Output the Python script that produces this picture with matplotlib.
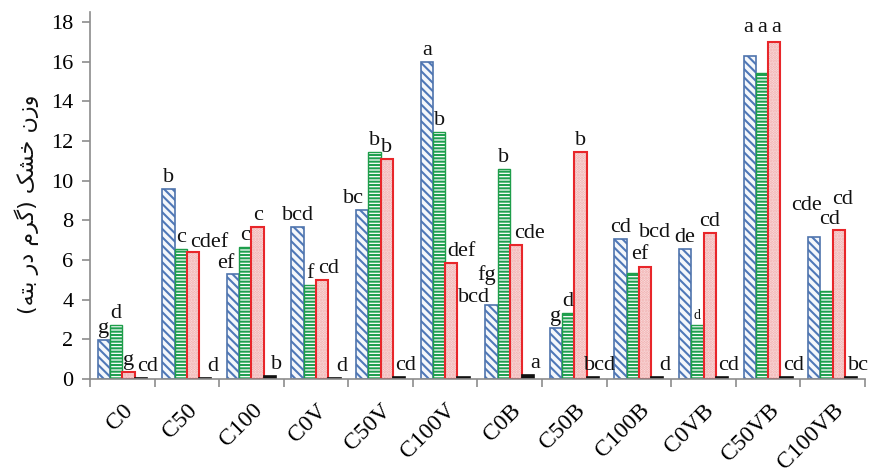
import matplotlib
matplotlib.use("Agg")
import matplotlib.pyplot as plt
import numpy as np

# ---------------- data ----------------
categories = ["C0", "C50", "C100", "C0V", "C50V", "C100V", "C0B", "C50B",
              "C100B", "C0VB", "C50VB", "C100VB"]
series1 = [1.97, 9.57, 5.30, 7.68, 8.52, 16.00, 3.73, 2.56, 7.04, 6.54, 16.29, 7.14]
series2 = [2.72, 6.54, 6.64, 4.74, 11.46, 12.47, 10.57, 3.31, 5.36, 2.72, 15.45, 4.44]
series3 = [0.37, 6.39, 7.68, 4.99, 11.09, 5.87, 6.76, 11.46, 5.66, 7.38, 17.00, 7.51]
series4 = [0.05, 0.03, 0.15, 0.03, 0.10, 0.08, 0.20, 0.08, 0.08, 0.08, 0.08, 0.12]
letters1 = ["g", "b", "ef", "bcd", "bc", "a", "fg", "g", "cd", "de", "a", "cde"]
letters2 = ["d", "c", "c", "f", "b", "b", "b", "d", "ef", "d", "a", "cd"]
letters3 = ["g", "cdef", "c", "cd", "b", "def", "cde", "b", "bcd", "cd", "a", "cd"]
letters4 = ["cd", "d", "b", "d", "cd", "bcd", "a", "bcd", "d", "cd", "cd", "bc"]
yticks = [0, 2, 4, 6, 8, 10, 12, 14, 16, 18]
ylabel_text = "وزن خشک (گرم در بته)"

# ---------------- label layout tweaks (dx in pixels, baseline in data units) ----------------
label_tweaks = {
    (1, 2): (16, 6.65),
    (2, 0): (-7, 5.6),
    (3, 2): (6, None),
    (4, 0): (-9, None),
    (5, 2): (10, None),
    (5, 3): (10, 3.9),
    (6, 0): (-5, 5.0),
    (6, 2): (14, None),
    (8, 1): (7, 6.05),
    (8, 2): (10, 7.15),
    (9, 1): (0, 3.0),
    (10, 0): (-2, 17.5),
    (10, 1): (0, 17.5),
    (10, 2): (2, 17.5),
    (11, 0): (-8, 8.5),
    (11, 1): (3, 7.8),
    (11, 2): (4, 8.8),
}
small_labels = {(9, 1)}


# ---------------- minimal Arabic/Persian shaping ----------------
FORMS = {  # iso, fin, ini, med
    "و": ("\uFEED", "\uFEEE", None, None),
    "ز": ("\uFEAF", "\uFEB0", None, None),
    "ر": ("\uFEAD", "\uFEAE", None, None),
    "د": ("\uFEA9", "\uFEAA", None, None),
    "ن": ("\uFEE5", "\uFEE6", "\uFEE7", "\uFEE8"),
    "خ": ("\uFEA5", "\uFEA6", "\uFEA7", "\uFEA8"),
    "ش": ("\uFEB5", "\uFEB6", "\uFEB7", "\uFEB8"),
    "ک": ("\uFB8E", "\uFB8F", "\uFB90", "\uFB91"),
    "گ": ("\uFB92", "\uFB93", "\uFB94", "\uFB95"),
    "م": ("\uFEE1", "\uFEE2", "\uFEE3", "\uFEE4"),
    "ب": ("\uFE8F", "\uFE90", "\uFE91", "\uFE92"),
    "ت": ("\uFE95", "\uFE96", "\uFE97", "\uFE98"),
    "ه": ("\uFEE9", "\uFEEA", "\uFEEB", "\uFEEC"),
}


def shape_rtl(s):
    out = []
    n = len(s)
    for i, ch in enumerate(s):
        if ch not in FORMS:
            out.append(ch)
            continue
        iso, fin, ini, med = FORMS[ch]
        prev = s[i - 1] if i > 0 else None
        nxt = s[i + 1] if i < n - 1 else None
        join_prev = prev in FORMS and FORMS[prev][2] is not None
        join_next = ini is not None and nxt in FORMS
        if join_prev and join_next:
            out.append(med)
        elif join_prev:
            out.append(fin)
        elif join_next:
            out.append(ini)
        else:
            out.append(iso)
    vis = "".join(reversed(out))
    vis = vis.translate(str.maketrans("()", ")("))
    return vis


# ---------------- figure ----------------
plt.rcParams["font.family"] = ["Liberation Serif", "DejaVu Serif"]
plt.rcParams["hatch.linewidth"] = 1.5

fig = plt.figure(figsize=(8.77, 4.74), dpi=100)
ax = fig.add_axes([0.1026, 0.2004, 0.9863 - 0.1026, 0.9747 - 0.2004])

x = np.arange(len(categories))
w = 0.19
offs = [-1.5 * w, -0.5 * w, 0.5 * w, 1.5 * w]

blue_edge = "#4f74ad"
green_edge = "#1e9e4a"
red_edge = "#e8262a"

# series 1: blue diagonal stripes
ax.bar(x + offs[0], series1, w, facecolor="#f4f7fb", edgecolor="#4f78b8",
       hatch="\\\\\\\\", linewidth=0)
ax.bar(x + offs[0], series1, w, facecolor="none", edgecolor=blue_edge, linewidth=1.2)
# series 2: green horizontal stripes
ax.bar(x + offs[1], series2, w, facecolor="white", edgecolor="#1fa050",
       hatch="-----", linewidth=0)
ax.bar(x + offs[1], series2, w, facecolor="none", edgecolor=green_edge, linewidth=1.0)
# series 3: pink dotted with red outline
ax.bar(x + offs[2], series3, w, facecolor="#fbe6e6", edgecolor="#f0a8a8",
       hatch="......", linewidth=0)
ax.bar(x + offs[2], series3, w, facecolor="none", edgecolor=red_edge, linewidth=1.5)
# series 4: black
ax.bar(x + offs[3], series4, w, facecolor="#111111", edgecolor="#111111", linewidth=1.2)

# letters
px_per_unit_x = (0.9863 - 0.1026) * 877 / 12.0
all_vals = [series1, series2, series3, series4]
all_lets = [letters1, letters2, letters3, letters4]
for si in range(4):
    for gi in range(len(categories)):
        v = all_vals[si][gi]
        dx_px, base = label_tweaks.get((gi, si), (0, None))
        if si == 3 and (gi, si) not in label_tweaks:
            dx_px = 7
        if base is None:
            base = v + 0.35
        fs = 10 if (gi, si) in small_labels else 16
        ax.text(x[gi] + offs[si] + dx_px / px_per_unit_x, base, all_lets[si][gi],
                ha="center", va="baseline", fontsize=fs, color="#111111")

# axes styling
ax.set_xlim(-0.5, len(categories) - 0.5)
ax.set_ylim(0, 18.5)
ax.spines["top"].set_visible(False)
ax.spines["right"].set_visible(False)
ax.spines["left"].set_color("#8c8c8c")
ax.spines["bottom"].set_color("#8c8c8c")
ax.spines["left"].set_linewidth(1.2)
ax.spines["bottom"].set_linewidth(1.2)

ax.set_yticks(yticks)
ax.set_yticklabels([str(t) for t in yticks], fontsize=16)
ax.tick_params(axis="y", direction="out", length=6, width=1.2, color="#8c8c8c", pad=6)

ax.set_xticks(np.arange(-0.5, len(categories), 1.0), minor=True)
ax.set_xticks(x)
ax.set_xticklabels(categories, fontsize=17, rotation=45, ha="right",
                   rotation_mode="anchor")
ax.tick_params(axis="x", which="major", length=0, pad=15)
ax.tick_params(axis="x", which="minor", direction="out", length=6, width=1.2,
               color="#8c8c8c")

fig.text(0.03, 0.57, shape_rtl(ylabel_text), rotation=90, fontsize=16,
         family=["DejaVu Sans"], ha="center", va="center", color="#111111")

fig.savefig("out.png", dpi=100, facecolor="white")
